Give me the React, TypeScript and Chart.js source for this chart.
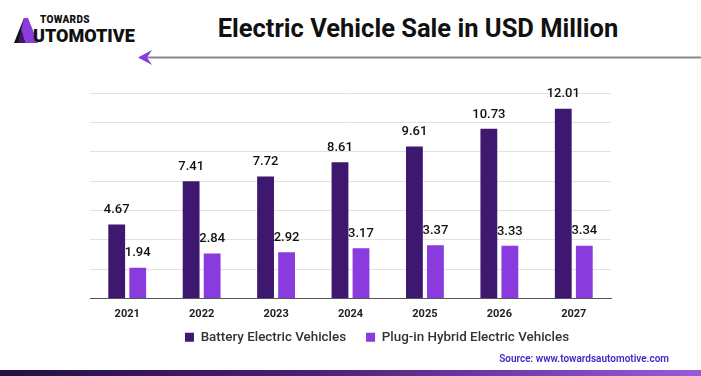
import React, { useEffect, useRef } from "react";
import { Chart, registerables } from "chart.js";

Chart.register(...registerables);

const years = ["2021", "2022", "2023", "2024", "2025", "2026", "2027"];
const bevValues = [4.67, 7.41, 7.72, 8.61, 9.61, 10.73, 12.01];
const phevValues = [1.94, 2.84, 2.92, 3.17, 3.37, 3.33, 3.34];
const seriesNames = ["Battery Electric Vehicles", "Plug-in Hybrid Electric Vehicles"];
const seriesColors = ["#3e176f", "#8a3bdd"];

const valueLabels = {
  id: "valueLabels",
  afterDatasetsDraw(chart: any) {
    const ctx = chart.ctx;
    ctx.save();
    ctx.font = "500 13px Roboto";
    ctx.fillStyle = "#111";
    ctx.textAlign = "center";
    ctx.textBaseline = "bottom";
    chart.data.datasets.forEach((ds: any, i: number) => {
      const meta = chart.getDatasetMeta(i);
      meta.data.forEach((bar: any, j: number) => {
        ctx.fillText(ds.data[j].toFixed(2), bar.x, bar.y - 8);
      });
    });
    ctx.restore();
  },
};

const LEGEND_CENTER_Y = 255.5; // canvas coordinates

const legendShift = {
  id: "legendShift",
  afterLayout(chart: any) {
    const lg = chart.legend;
    if (!lg) return;
    const h = lg.bottom - lg.top;
    const currentCenter = lg.top + 20 + 5;
    const dy = LEGEND_CENTER_Y - currentCenter;
    lg.top += dy;
    lg.bottom = lg.top + h;
  },
};

export default function App() {
  const ref = useRef<HTMLCanvasElement>(null);
  useEffect(() => {
    document.body.style.margin = "0";
    const chart = new Chart(ref.current!, {
      type: "bar",
      data: {
        labels: years,
        datasets: [
          { label: seriesNames[0], data: bevValues, backgroundColor: seriesColors[0] },
          { label: seriesNames[1], data: phevValues, backgroundColor: seriesColors[1] },
        ],
      },
      options: {
        animation: false,
        responsive: true,
        maintainAspectRatio: false,
        layout: { padding: { left: 0, right: 0, top: 13, bottom: 0 } },
        datasets: { bar: { categoryPercentage: 0.565, barPercentage: 0.8 } },
        scales: {
          x: {
            grid: { display: false, drawTicks: false },
            border: { display: true, color: "#555555", width: 1 },
            ticks: { color: "#222", font: { family: "Roboto", weight: "bold", size: 11 }, padding: 9 },
          },
          y: {
            min: 0,
            max: 13,
            ticks: { display: false, count: 8 },
            grid: { color: "#e2e2e2", drawTicks: false },
            border: { display: false },
            afterFit: (s: any) => { s.width = 90; },
          },
          yRight: {
            position: "right",
            display: true,
            ticks: { display: false },
            grid: { display: false, drawTicks: false },
            border: { display: false },
            afterFit: (s: any) => { s.width = 143; },
          },
        },
        plugins: {
          legend: {
            position: "bottom",
            labels: {
              boxWidth: 9,
              boxHeight: 9,
              color: "#333",
              font: { family: "Roboto", weight: "500", size: 13.4 },
              padding: 20,
            },
          },
          tooltip: { enabled: false },
        },
      },
      plugins: [valueLabels, legendShift],
    });
    return () => chart.destroy();
  }, []);

  return (
    <div style={{ position: "relative", width: 701, height: 376, background: "#fff", overflow: "hidden", fontFamily: "Roboto" }}>
      <svg width="30" height="28" viewBox="0 0 30 28" style={{ position: "absolute", left: 12, top: 16 }}>
        <polygon points="2,27 12,2 16,2 10,27" fill="#111" />
        <polygon points="12,2 16,2 26,27 14,27 9,14" fill="#8a3bdd" />
        <polygon points="9,14 14,27 6,27" fill="#3e176f" />
      </svg>
      <div style={{ position: "absolute", left: 40, top: 14, fontSize: 10, fontWeight: 900, color: "#111", letterSpacing: 0.3 }}>TOWARDS</div>
      <div style={{ position: "absolute", left: 33, top: 25, fontSize: 18, fontWeight: 900, color: "#111" }}>UTOMOTIVE</div>
      <div style={{ position: "absolute", left: 0, width: 836, top: 13, textAlign: "center", fontSize: 25.5, fontWeight: 700, color: "#111" }}>
        Electric Vehicle Sale in USD Million
      </div>
      <svg width="701" height="20" style={{ position: "absolute", left: 0, top: 48 }}>
        <line x1="146" y1="9.5" x2="701" y2="9.5" stroke="#888" strokeWidth="2" />
        <polygon points="138,9.5 152,2 147,9.5 152,17" fill="#8a3bdd" />
      </svg>
      <div style={{ position: "absolute", left: 0, top: 80, width: 754, height: 293 }}>
        <canvas ref={ref} />
      </div>
      <div style={{ position: "absolute", right: 32, top: 353, fontSize: 10, fontWeight: 600, color: "#3d2bc4" }}>
        Source: www.towardsautomotive.com
      </div>
      <div style={{ position: "absolute", left: 0, top: 370, width: 701, height: 6, background: "linear-gradient(90deg, #231040, #4a1f78 45%, #9b5ad8)" }} />
    </div>
  );
}
